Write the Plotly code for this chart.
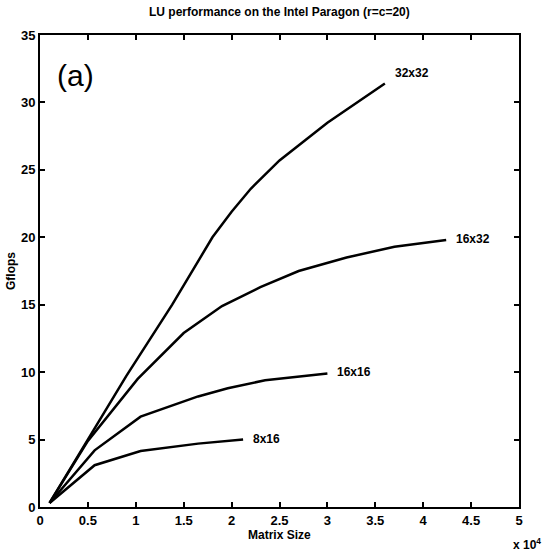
import plotly.graph_objects as go

# Matrix size in units of 1e4, Gflops
x_32x32 = [0.1, 0.5, 0.9, 1.38, 1.8, 2.0, 2.2, 2.5, 3.0, 3.6]
y_32x32 = [0.3, 5.0, 9.7, 15.0, 20.0, 21.9, 23.6, 25.7, 28.5, 31.4]

x_16x32 = [0.1, 0.5, 1.02, 1.5, 1.9, 2.3, 2.7, 3.2, 3.7, 4.24]
y_16x32 = [0.3, 4.9, 9.5, 12.9, 14.9, 16.3, 17.5, 18.5, 19.3, 19.8]

x_16x16 = [0.1, 0.57, 1.05, 1.65, 1.96, 2.35, 3.0]
y_16x16 = [0.3, 4.2, 6.7, 8.2, 8.8, 9.4, 9.9]

x_8x16 = [0.1, 0.57, 1.05, 1.65, 2.12]
y_8x16 = [0.3, 3.1, 4.15, 4.7, 5.0]

series = [("32x32", x_32x32, y_32x32), ("16x32", x_16x32, y_16x32),
          ("16x16", x_16x16, y_16x16), ("8x16", x_8x16, y_8x16)]

x_ticks = [0, 0.5, 1, 1.5, 2, 2.5, 3, 3.5, 4, 4.5, 5]
x_ticktext = ["0", "0.5", "1", "1.5", "2", "2.5", "3", "3.5", "4", "4.5", "5"]
y_ticks = [0, 5, 10, 15, 20, 25, 30, 35]

FONT = "Liberation Sans Narrow, Liberation Sans, Arial"
W, H = 552, 554
L, R, T, B = 40, 33, 35, 47

def px_to_paper_x(px):
    return (px - L) / (W - L - R)

def px_to_paper_y(py):
    return (H - B - py) / (H - T - B)

fig = go.Figure()
for name, xs, ys in series:
    fig.add_trace(go.Scatter(x=xs, y=ys, mode="lines", name=name,
                             line=dict(color="black", width=2.5), showlegend=False))
    fig.add_annotation(x=xs[-1], y=ys[-1], text=name, showarrow=False,
                       xanchor="left", yanchor="middle", xshift=8,
                       yshift=11 if name == "32x32" else 1,
                       font=dict(family=FONT, size=12, color="black", weight="bold"))

fig.add_annotation(x=0.16, y=32.0, text="(a)", showarrow=False, xanchor="left",
                   yanchor="middle", font=dict(family="Liberation Sans, Arial", size=30, color="black"))

text_font = dict(family=FONT, size=12, color="black", weight="bold")
fig.add_annotation(xref="paper", yref="paper", x=px_to_paper_x(511), y=px_to_paper_y(544),
                   text="x 10<sup>4</sup>", showarrow=False, xanchor="left", yanchor="middle",
                   font=text_font)
fig.add_annotation(xref="paper", yref="paper", x=0.5, y=px_to_paper_y(535),
                   text="Matrix Size", showarrow=False, xanchor="center", yanchor="middle",
                   font=text_font)
fig.add_annotation(xref="paper", yref="paper", x=px_to_paper_x(11), y=0.5,
                   text="Gflops", showarrow=False, textangle=-90, xanchor="center", yanchor="middle",
                   font=text_font)
fig.add_annotation(xref="paper", yref="paper", x=0.5, y=px_to_paper_y(12),
                   text="LU performance on the Intel Paragon (r=c=20)", showarrow=False,
                   xanchor="center", yanchor="middle",
                   font=dict(family=FONT, size=12, color="black", weight="bold"))

axis_common = dict(showline=True, linecolor="black", linewidth=2, mirror="ticks",
                   ticks="inside", ticklen=5, tickwidth=1.5, tickcolor="black",
                   showgrid=False, zeroline=False, automargin=False,
                   tickfont=dict(family=FONT, size=13, color="black", weight="bold"))

fig.update_layout(
    width=W, height=H,
    margin=dict(l=L, r=R, t=T, b=B),
    paper_bgcolor="white", plot_bgcolor="white",
    xaxis=dict(range=[0, 5], tickvals=x_ticks, ticktext=x_ticktext,
               ticklabeloverflow="allow", **axis_common),
    yaxis=dict(range=[0, 35], tickvals=y_ticks, **axis_common),
)

fig.write_html("out.html", config={"displayModeBar": False},
               post_script="document.body.style.margin='0';")
